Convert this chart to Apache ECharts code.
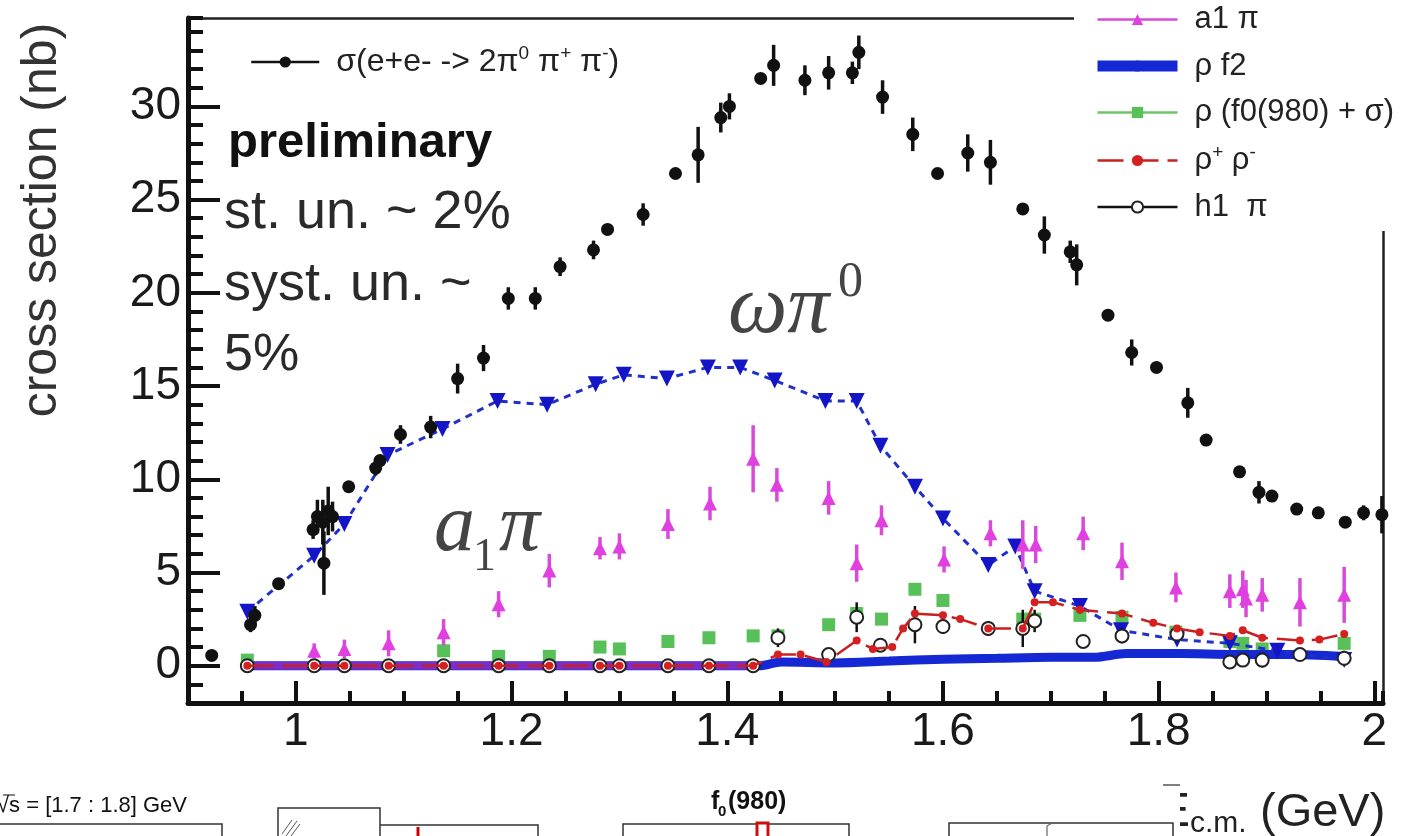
<!DOCTYPE html>
<html>
<head>
<meta charset="utf-8">
<script src="https://cdn.jsdelivr.net/npm/echarts@6/dist/echarts.min.js"></script>
<style>
html,body{margin:0;padding:0;background:#fff;}
#c{width:1421px;height:836px;}
</style>
</head>
<body>
<div id="c"></div>
<script>
// e+e- -> 2pi0 pi+ pi- cross section (nb) vs E_c.m. (GeV) and its intermediate-state contributions

// total cross section: energy, value, stat. error
const sigmaX   = [0.922,0.958,0.962,0.984,1.016,1.020,1.025,1.026,1.030,1.034,1.049,1.074,1.078,1.097,1.125,1.150,1.174,1.197,1.222,1.245,1.276,1.289,1.322,1.352,1.373,1.394,1.402,1.431,1.443,1.472,1.494,1.516,1.522,1.544,1.572,1.595,1.623,1.644,1.674,1.694,1.718,1.724,1.753,1.775,1.798,1.827,1.844,1.875,1.893,1.905,1.928,1.948,1.973,1.990,2.007];
const sigmaY   = [0.55,2.2,2.7,4.4,7.3,8.0,7.7,5.5,8.3,8.0,9.6,10.6,11.0,12.4,12.8,15.4,16.5,19.7,19.7,21.4,22.3,23.4,24.2,26.4,27.4,29.4,30.0,31.5,32.2,31.4,31.8,31.8,32.9,30.5,28.5,26.4,27.5,27.0,24.5,23.1,22.2,21.5,18.8,16.8,16.0,14.1,12.1,10.4,9.3,9.1,8.4,8.2,7.7,8.2,8.1];
const sigmaErr = [0.2,0.4,0.5,0.2,0.5,0.9,1.2,1.7,1.3,0.8,0.2,0.4,0.3,0.5,0.6,0.8,0.7,0.6,0.6,0.5,0.5,0.3,0.6,0.2,1.5,0.8,0.7,0.2,1.1,0.8,0.9,0.6,0.9,0.9,0.9,0.2,1.0,1.2,0.2,1.0,0.6,1.1,0.2,0.7,0.2,0.8,0.2,0.2,0.6,0.2,0.2,0.2,0.2,0.4,1.0];

// omega pi0
const omegaX = [0.955,1.017,1.045,1.085,1.136,1.187,1.233,1.278,1.304,1.344,1.382,1.412,1.444,1.491,1.520,1.542,1.574,1.600,1.642,1.667,1.685,1.727,1.765,1.817,1.866,1.910,1.972];
const omegaY = [2.9,5.9,7.6,11.3,12.7,14.2,14.0,15.1,15.6,15.4,16.0,16.0,15.3,14.2,14.2,11.8,9.6,7.9,5.4,6.4,4.0,3.2,1.9,1.4,1.2,0.8,0.3];

// a1 pi
const a1X   = [1.017,1.045,1.086,1.137,1.188,1.235,1.282,1.300,1.345,1.384,1.424,1.446,1.494,1.520,1.543,1.601,1.644,1.674,1.686,1.730,1.766,1.816,1.866,1.878,1.881,1.896,1.931,1.972];
const a1Y   = [0.8,0.9,1.2,1.8,3.3,5.1,6.3,6.4,7.6,8.7,11.1,9.7,9.0,5.5,7.8,5.7,7.1,6.5,6.5,7.1,5.6,4.2,4.0,4.1,3.6,3.8,3.4,3.8];
const a1Err = [0.4,0.5,0.7,0.7,0.7,0.9,0.6,0.7,0.8,0.9,1.8,0.9,0.9,1.0,0.8,0.7,0.7,1.3,1.0,0.9,1.0,0.8,0.9,1.0,1.0,0.9,1.3,1.5];
const a1BaseX = [0.955,1.43];
const a1BaseY = [0,0];

// rho f2
const rhoF2X = [0.955,1.43,1.45,1.50,1.55,1.60,1.65,1.70,1.74,1.77,1.82,1.87,1.92,1.972];
const rhoF2Y = [0,0,0.2,0.15,0.25,0.35,0.4,0.45,0.45,0.65,0.65,0.6,0.6,0.5];

// rho (f0(980) + sigma)
const rhoF0X = [0.955,1.137,1.188,1.235,1.282,1.300,1.345,1.383,1.424,1.447,1.494,1.520,1.543,1.574,1.600,1.674,1.685,1.727,1.766,1.816,1.866,1.878,1.896,1.972];
const rhoF0Y = [0.3,0.8,0.5,0.5,1.0,0.9,1.3,1.5,1.6,1.6,2.2,2.8,2.5,4.1,3.5,2.5,2.5,2.7,2.6,1.8,1.3,1.2,0.9,1.2];

// rho+ rho-
const rhoRhoX = [0.955,1.017,1.045,1.086,1.137,1.188,1.235,1.282,1.300,1.345,1.383,1.424,1.447,1.468,1.492,1.520,1.535,1.553,1.563,1.574,1.600,1.616,1.642,1.674,1.685,1.702,1.727,1.766,1.795,1.817,1.838,1.866,1.878,1.896,1.931,1.949,1.972];
const rhoRhoY = [0,0,0,0,0,0,0,0,0,0,0,0,0.6,0.6,0.2,1.35,0.9,1.0,2.0,2.8,2.7,2.5,2.0,2.0,3.4,3.4,3.0,2.8,2.3,2.0,1.8,1.6,1.9,1.5,1.35,1.4,1.7];

// h1 pi
const h1X   = [0.955,1.017,1.045,1.086,1.137,1.188,1.235,1.282,1.300,1.345,1.383,1.424,1.447,1.494,1.520,1.542,1.574,1.600,1.642,1.674,1.685,1.730,1.766,1.817,1.866,1.878,1.896,1.931,1.972];
const h1Y   = [0,0,0,0,0,0,0,0,0,0,0,0,1.5,0.6,2.6,1.1,2.2,2.1,2.0,2.0,2.4,1.3,1.6,1.7,0.2,0.3,0.3,0.6,0.4];
const h1Err = [0,0,0,0,0,0,0,0,0,0,0,0,0.5,0.2,0.8,0.3,1.0,0.4,0.4,1.0,0.6,0.2,0.4,0.4,0.3,0.3,0.4,0.2,0.4];

// axis ticks
const xMajor = [1,1.2,1.4,1.6,1.8,2];
const yMajor = [0,5,10,15,20,25,30];

const SANS  = '"Liberation Sans", Arial, Helvetica, sans-serif';
const SERIF = '"Liberation Serif", "DejaVu Serif", serif';

const pairs = (xs, ys) => xs.map((x, i) => [x, ys[i]]);
const bars  = (xs, ys, es) => xs.map((x, i) => [x, ys[i] - es[i], ys[i] + es[i]]).filter(d => d[2] > d[1]);

function errorBars(name, xs, ys, es, color, width, z) {
  return {
    type: 'custom', name, z, silent: true,
    data: bars(xs, ys, es),
    encode: { x: 0, y: 1 },
    renderItem: (params, api) => {
      const lo = api.coord([api.value(0), api.value(1)]);
      const hi = api.coord([api.value(0), api.value(2)]);
      return { type: 'line', shape: { x1: lo[0], y1: lo[1], x2: hi[0], y2: hi[1] },
               style: { stroke: color, lineWidth: width } };
    }
  };
}

const legendText = {
  sigma:  '{g|}{t|σ(e+e- -> 2π}{sup|0}{t| π}{sup|+}{t| π}{sup|-}{t|)}',
  a1pi:   '{g|}{t|a1 π}',
  rhof2:  '{g|}{t|ρ f2}',
  rhof0:  '{g|}{t|ρ (f0(980) + σ)}',
  rhorho: '{g|}{t|ρ}{sup|+}{t| ρ}{sup|-}',
  h1pi:   '{g|}{t|h1  π}'
};
const legendRich = (fs, lh) => ({
  g:   { width: 12 },
  t:   { fontSize: fs, fontFamily: SANS, color: '#222', lineHeight: lh },
  sup: { fontSize: Math.round(fs * 0.6), fontFamily: SANS, color: '#222', lineHeight: lh, verticalAlign: 'top' }
});

const axisCommon = (pos) => ({
  type: 'value', position: pos, splitLine: { show: false },
  axisLine: { show: false, onZero: false }, axisTick: { show: false }, axisLabel: { show: false }
});
const tickStyle = { color: '#111', width: 4 };
const fmt = v => String(+(+v).toFixed(1));

const option = {
  animation: false,
  backgroundColor: '#ffffff',
  grid: { left: 188, right: 38, top: 18, bottom: 133, containLabel: false },
  xAxis: [
    Object.assign(axisCommon('bottom'), { min: 0.9, max: 2.008, interval: 0.05,
      axisLine: { show: true, onZero: false, lineStyle: { color: '#111', width: 5 } },
      axisTick: { show: true, inside: true, length: 12, lineStyle: tickStyle } }),
    Object.assign(axisCommon('bottom'), { min: 0.9, max: 2.008,
      axisTick: { show: true, inside: true, length: 22, customValues: xMajor, lineStyle: tickStyle },
      axisLabel: { show: true, customValues: xMajor, formatter: fmt, fontSize: 46, fontFamily: SANS, color: '#1a1a1a', margin: 6 } }),
    Object.assign(axisCommon('top'), { min: 0.9, max: 2.008,
      axisLine: { show: true, onZero: false, lineStyle: { color: '#222', width: 2.5 } } })
  ],
  yAxis: [
    Object.assign(axisCommon('left'), { min: -2, max: 34.74, interval: 1,
      axisLine: { show: true, onZero: false, lineStyle: { color: '#111', width: 5 } },
      axisTick: { show: true, inside: true, length: 15, lineStyle: tickStyle } }),
    Object.assign(axisCommon('left'), { min: -2, max: 34.74,
      axisTick: { show: true, inside: true, length: 32, customValues: yMajor, lineStyle: tickStyle },
      axisLabel: { show: true, customValues: yMajor, formatter: fmt, fontSize: 46, fontFamily: SANS, color: '#1a1a1a', margin: 7 } }),
    Object.assign(axisCommon('right'), { min: -2, max: 34.74,
      axisLine: { show: true, onZero: false, lineStyle: { color: '#222', width: 2.5 } } })
  ],
  legend: [
    {
      orient: 'vertical', left: 250, top: 44, padding: 0, z: 60,
      itemWidth: 68, itemHeight: 14, selectedMode: false,
      data: [{ name: 'sigma', lineStyle: { opacity: 1, width: 2.5, color: '#111' } }],
      formatter: n => legendText[n],
      textStyle: { rich: legendRich(32, 36) }
    },
    {
      orient: 'vertical', left: 1092, top: 4, padding: 0, z: 60,
      itemWidth: 80, itemHeight: 14, itemGap: 15.5, selectedMode: false,
      data: [
        { name: 'a1pi',   lineStyle: { opacity: 1, width: 2.5, color: '#d84ad8' } },
        { name: 'rhof2',  lineStyle: { width: 11 } },
        { name: 'rhof0',  lineStyle: { opacity: 1, width: 2.5, color: '#6cc46c' } },
        { name: 'rhorho', lineStyle: { width: 2.5 } },
        { name: 'h1pi',   lineStyle: { opacity: 1, width: 2.5, color: '#111' } }
      ],
      formatter: n => legendText[n],
      textStyle: { rich: legendRich(31, 34) }
    }
  ],
  series: [
    { type: 'line', name: 'rhof0', z: 2, data: pairs(rhoF0X, rhoF0Y),
      symbol: 'rect', symbolSize: 13, itemStyle: { color: '#58c058' },
      lineStyle: { opacity: 0 } },
    { type: 'line', name: 'rhof2', z: 3, data: pairs(rhoF2X, rhoF2Y), symbol: 'none', smooth: 0.3,
      lineStyle: { color: '#1428d4', width: 9 }, itemStyle: { color: '#1428d4' } },
    { type: 'line', name: 'a1base', z: 4, data: pairs(a1BaseX, a1BaseY), symbol: 'none',
      lineStyle: { color: '#d030c0', width: 8, opacity: 0.55 } },
    { type: 'line', name: 'omega', z: 5, data: pairs(omegaX, omegaY),
      symbol: 'triangle', symbolRotate: 180, symbolSize: 16, itemStyle: { color: '#1515c8' },
      lineStyle: { color: '#2030c8', width: 3, type: [7, 6] } },
    errorBars('a1err', a1X, a1Y, a1Err, '#d84ad8', 3.5, 6),
    { type: 'line', name: 'a1pi', z: 6, data: pairs(a1X, a1Y),
      symbol: 'triangle', symbolSize: 14, itemStyle: { color: '#e040e0' },
      lineStyle: { opacity: 0, color: '#d84ad8' } },
    errorBars('h1err', h1X, h1Y, h1Err, '#111', 2.5, 7),
    { type: 'line', name: 'h1pi', z: 7, data: pairs(h1X, h1Y),
      symbol: 'emptyCircle', symbolSize: 13, itemStyle: { color: '#222', borderWidth: 2 },
      lineStyle: { opacity: 0, color: '#111' } },
    { type: 'line', name: 'rhorho', z: 8, data: pairs(rhoRhoX, rhoRhoY),
      symbol: 'circle', symbolSize: 8, itemStyle: { color: '#d42020' },
      lineStyle: { color: '#c82020', width: 2.5, type: [26, 9] } },
    errorBars('sigmaerr', sigmaX, sigmaY, sigmaErr, '#111', 3.5, 9),
    { type: 'line', name: 'sigma', z: 9, data: pairs(sigmaX, sigmaY),
      symbol: 'circle', symbolSize: 13, itemStyle: { color: '#111' },
      lineStyle: { opacity: 0, color: '#111' } }
  ],
  graphic: { elements: [
    // legend backdrop over the top-right corner of the frame
    { type: 'rect', z: 50, shape: { x: 1074, y: 0, width: 347, height: 231 }, style: { fill: '#fff' } },
    { type: 'text', z: 10, x: 42, y: 220, rotation: Math.PI / 2,
      style: { text: 'cross section (nb)', font: `50px ${SANS}`, fill: '#333', textAlign: 'center', textVerticalAlign: 'middle' } },
    { type: 'text', z: 10, x: 228, y: 143,
      style: { text: 'preliminary', font: `bold 49px ${SANS}`, fill: '#111', textAlign: 'left', textVerticalAlign: 'middle' } },
    { type: 'text', z: 10, x: 224, y: 213,
      style: { text: 'st. un. ~ 2%', font: `54px ${SANS}`, fill: '#2a2a2a', textAlign: 'left', textVerticalAlign: 'middle' } },
    { type: 'text', z: 10, x: 224, y: 285,
      style: { text: 'syst. un. ~', font: `54px ${SANS}`, fill: '#2a2a2a', textAlign: 'left', textVerticalAlign: 'middle' } },
    { type: 'text', z: 10, x: 224, y: 356,
      style: { text: '5%', font: `52px ${SANS}`, fill: '#2a2a2a', textAlign: 'left', textVerticalAlign: 'middle' } },
    // omega pi0 and a1 pi annotations
    { type: 'text', z: 10, x: 728, y: 310,
      style: { text: 'ωπ', font: `italic 84px ${SERIF}`, fill: '#444', textAlign: 'left', textVerticalAlign: 'middle' } },
    { type: 'text', z: 10, x: 838, y: 283,
      style: { text: '0', font: `50px ${SERIF}`, fill: '#444', textAlign: 'left', textVerticalAlign: 'middle' } },
    { type: 'text', z: 10, x: 434, y: 528,
      style: { text: 'a', font: `italic 82px ${SERIF}`, fill: '#444', textAlign: 'left', textVerticalAlign: 'middle' } },
    { type: 'text', z: 10, x: 473, y: 558,
      style: { text: '1', font: `46px ${SERIF}`, fill: '#444', textAlign: 'left', textVerticalAlign: 'middle' } },
    { type: 'text', z: 10, x: 499, y: 528,
      style: { text: 'π', font: `italic 82px ${SERIF}`, fill: '#444', textAlign: 'left', textVerticalAlign: 'middle' } },
    // strip of neighbouring panels along the bottom edge
    { type: 'text', z: 10, x: -3, y: 806,
      style: { text: '√s = [1.7 : 1.8] GeV', font: `22px ${SANS}`, fill: '#111', textAlign: 'left', textVerticalAlign: 'middle' } },
    { type: 'line', z: 10, shape: { x1: 3, y1: 795, x2: 15, y2: 795 }, style: { stroke: '#111', lineWidth: 1 } },
    { type: 'polyline', z: 10, shape: { points: [[0, 824], [222, 824], [222, 840]] }, style: { stroke: '#333', lineWidth: 1.5, fill: null } },
    { type: 'polyline', z: 10, shape: { points: [[278, 840], [278, 808], [380, 808], [380, 840]] }, style: { stroke: '#333', lineWidth: 1.5, fill: null } },
    { type: 'line', z: 10, shape: { x1: 282, y1: 834, x2: 292, y2: 820 }, style: { stroke: '#555', lineWidth: 1 } },
    { type: 'line', z: 10, shape: { x1: 286, y1: 836, x2: 297, y2: 821 }, style: { stroke: '#555', lineWidth: 1 } },
    { type: 'line', z: 10, shape: { x1: 291, y1: 836, x2: 300, y2: 824 }, style: { stroke: '#555', lineWidth: 1 } },
    { type: 'polyline', z: 10, shape: { points: [[380, 825], [538, 825], [538, 840]] }, style: { stroke: '#333', lineWidth: 1.5, fill: null } },
    { type: 'line', z: 10, shape: { x1: 418, y1: 827, x2: 418, y2: 840 }, style: { stroke: '#cc0000', lineWidth: 3 } },
    { type: 'text', z: 10, x: 711, y: 802,
      style: { text: 'f', font: `bold 25px ${SANS}`, fill: '#111', textAlign: 'left', textVerticalAlign: 'middle' } },
    { type: 'text', z: 10, x: 718, y: 812,
      style: { text: '0', font: `bold 15px ${SANS}`, fill: '#111', textAlign: 'left', textVerticalAlign: 'middle' } },
    { type: 'text', z: 10, x: 728, y: 802,
      style: { text: '(980)', font: `bold 25px ${SANS}`, fill: '#111', textAlign: 'left', textVerticalAlign: 'middle' } },
    { type: 'polyline', z: 10, shape: { points: [[623, 840], [623, 824], [849, 824], [849, 840]] }, style: { stroke: '#333', lineWidth: 1.5, fill: null } },
    { type: 'rect', z: 11, shape: { x: 757, y: 823, width: 11, height: 16 }, style: { stroke: '#cc1010', lineWidth: 3, fill: '#fff' } },
    // E_c.m. (GeV) axis title, its left part hidden behind a white patch
    { type: 'text', z: 10, x: 1158, y: 813,
      style: { text: 'E', font: `48px ${SANS}`, fill: '#222', textAlign: 'left', textVerticalAlign: 'middle' } },
    { type: 'rect', z: 11, shape: { x: 1140, y: 786, width: 40, height: 52 }, style: { fill: '#fff' } },
    { type: 'line', z: 12, shape: { x1: 1163, y1: 785, x2: 1180, y2: 785 }, style: { stroke: '#555', lineWidth: 1.5 } },
    { type: 'polyline', z: 12, shape: { points: [[949, 840], [949, 823], [1173, 823], [1173, 840]] }, style: { stroke: '#333', lineWidth: 1.5, fill: null } },
    { type: 'polyline', z: 12, shape: { points: [[1047, 836], [1047, 826], [1052, 823]] }, style: { stroke: '#666', lineWidth: 1.2, fill: null } },
    { type: 'text', z: 10, x: 1190, y: 824,
      style: { text: 'c.m.', font: `30px ${SANS}`, fill: '#222', textAlign: 'left', textVerticalAlign: 'middle' } },
    { type: 'text', z: 10, x: 1260, y: 813,
      style: { text: '(GeV)', font: `47px ${SANS}`, fill: '#222', textAlign: 'left', textVerticalAlign: 'middle' } }
  ] }
};

const chart = echarts.init(document.getElementById('c'), null, { renderer: 'canvas', width: 1421, height: 836 });
chart.setOption(option);
</script>
</body>
</html>
